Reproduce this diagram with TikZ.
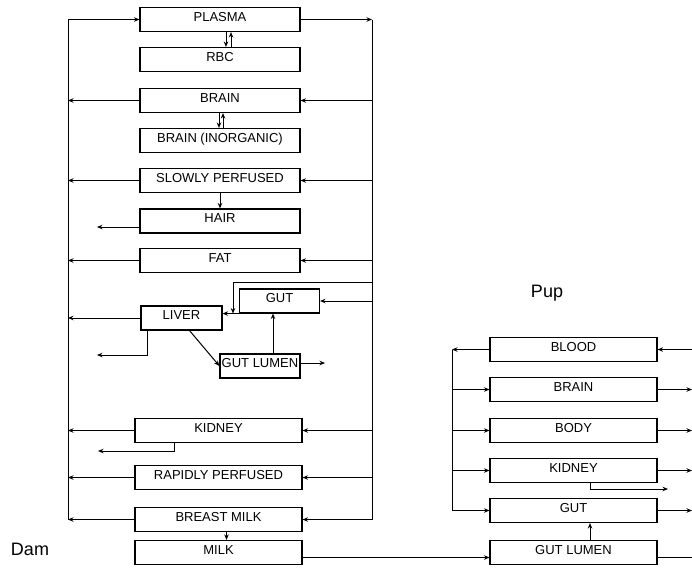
\documentclass[tikz,border=0pt]{standalone}
\usepackage{fontspec}
\setmainfont{Liberation Sans}
\usetikzlibrary{arrows.meta, positioning}

\begin{document}
\begin{tikzpicture}[x=1pt, y=-1pt, >={Stealth[length=5.5pt, width=4.5pt]}, line width=1pt,
    organ/.style={draw, line width=1.1pt, minimum width=#1, minimum height=24pt, inner sep=0pt,
      text height=9.4pt, text depth=6pt, font=\fontsize{13}{13}\selectfont},
    organ/.default=160pt,
    tag/.style={font=\fontsize{18}{18}\selectfont}]
    \useasboundingbox (0,0) rectangle (692,568);
    % dam
    \node[organ] (plasma) at (220,19.5) {PLASMA};
    \node[organ] (rbc) at (220,59.5) {RBC};
    \node[organ] (brain) at (220,100.5) {BRAIN};
    \node[organ] (brainin) at (220,140.5) {BRAIN (INORGANIC)};
    \node[organ] (slow) at (220,180.5) {SLOWLY PERFUSED};
    \node[organ] (hair) at (220,221) {HAIR};
    \node[organ] (fat) at (220,260.5) {FAT};
    \node[organ=80pt] (gut) at (279.5,301) {GUT};
    \node[organ=81pt] (liver) at (181.5,318) {LIVER};
    \node[organ=80pt] (lumen) at (260,366) {GUT LUMEN};
    \node[organ=167pt] (kidney) at (218.5,430.5) {KIDNEY};
    \node[organ=167pt] (rapid) at (218.5,477.5) {RAPIDLY PERFUSED};
    \node[organ=167pt] (breast) at (218.5,519.5) {BREAST MILK};
    \node[organ=167pt] (milk) at (218.5,552.5) {MILK};
    \node[tag] (dam) at (30,549) {Dam};
    \coordinate (dl) at (68,0);
    \coordinate (dr) at (372,0);
    \coordinate (hep) at (233,282);
    \coordinate (hairex) at (97,227);
    \coordinate (livex) at (97,355);
    \coordinate (kidex) at (98,451);
    \coordinate (lumout) at (325,363);

    \draw (plasma.west -| dl) -- (breast.west -| dl);
    \draw (plasma.east -| dr) -- (breast.east -| dr);
    \draw[->] (plasma.west -| dl) -- (plasma.west);
    \draw[->] (plasma.east) -- (plasma.east -| dr);
    \foreach \o in {brain, slow, fat, liver, kidney, rapid, breast}
      \draw[->] (\o.west) -- (\o.west -| dl);
    \foreach \o in {brain, slow, fat, gut, kidney, rapid, breast}
      \draw[->] (\o.east -| dr) -- (\o.east);
    \draw[->] ([xshift=6pt]plasma.south) -- ([xshift=6pt]rbc.north);
    \draw[<-] ([xshift=11pt]plasma.south) -- ([xshift=11pt]rbc.north);
    \draw[->] ([xshift=-1pt]brain.south) -- ([xshift=-1pt]brainin.north);
    \draw[<-] ([xshift=3pt]brain.south) -- ([xshift=3pt]brainin.north);
    \draw[->] (slow) -- (hair);
    \draw[->] (hair.west |- hairex) -- (hairex);
    \draw[->] (hep -| dr) -- (hep) -- (hep |- gut.south);
    \draw[->] (gut.south west) -- (gut.south west -| liver.east);
    \draw[->] ([xshift=7pt]liver.south west) |- (livex);
    \draw[->] ([xshift=8pt]liver.south) -- (lumen.west);
    \draw[->] ([xshift=13pt]lumen.north) -- ([xshift=13pt]lumen.north |- gut.south);
    \draw[->] (lumen.east |- lumout) -- (lumout);
    \draw[->] ([xshift=40pt]kidney.south west) |- (kidex);
    \draw[->] ([xshift=8pt]breast.south) -- ([xshift=8pt]milk.north);

    % pup
    \node[tag] (pup) at (547,293) {Pup};
    \node[organ=167pt] (blood) at (573.5,349.5) {BLOOD};
    \node[organ=167pt] (pbrain) at (573.5,389.5) {BRAIN};
    \node[organ=167pt] (body) at (573.5,430.5) {BODY};
    \node[organ=167pt] (pkidney) at (573.5,470.5) {KIDNEY};
    \node[organ=167pt] (pgut) at (573.5,510.5) {GUT};
    \node[organ=167pt] (plumen) at (573.5,552.5) {GUT LUMEN};
    \coordinate (pl) at (452,0);
    \coordinate (pr) at (692,0);
    \coordinate (pkidex) at (668,489);

    \draw (blood.west -| pl) -- (pgut.west -| pl);
    \draw[->] (blood.west) -- (blood.west -| pl);
    \draw[->] (blood.east -| pr) -- (blood.east);
    \foreach \o in {pbrain, body, pkidney, pgut} {
      \draw[->] (\o.west -| pl) -- (\o.west);
      \draw[->] (\o.east) -- (\o.east -| pr);
    }
    \draw[->] ([xshift=16.5pt]pkidney.south) |- (pkidex);
    \draw[->] ([xshift=16.5pt]plumen.north) -- ([xshift=16.5pt]pgut.south);
    \draw[->] ([yshift=-5pt]milk.east) -- ([yshift=-5pt]milk.east -| plumen.west);
    \draw ([yshift=-5pt]plumen.east) -- ([yshift=-5pt]plumen.east -| pr);
  \end{tikzpicture}
\end{document}
